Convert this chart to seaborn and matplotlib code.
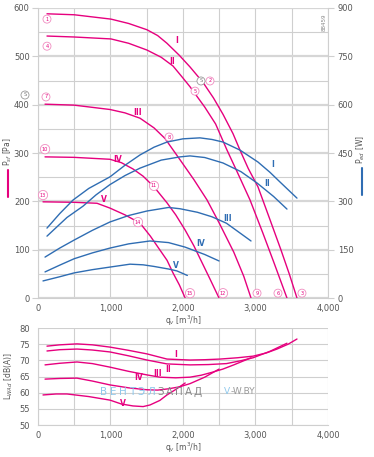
import matplotlib
matplotlib.use("Agg")
import matplotlib.pyplot as plt
import seaborn as sns
import numpy as np

sns.set_style("white")
plt.rcParams['font.family'] = ['DejaVu Sans']

MAG = '#e6007e'
BLUE = '#2f6db3'
GRID = '#cfcfcf'
TXT = '#555555'

# pressure curves (q in m3/h, p in Pa)
q_p1 = [124, 500, 1007, 1250, 1503, 1650, 1779, 1950, 2097, 2276, 2420, 2552, 2690, 2786, 2900, 3034, 3200, 3350, 3470, 3572]
p_p1 = [588, 586, 577, 568, 555, 543, 527, 502, 478, 446, 414, 380, 340, 306, 268, 230, 162, 100, 48, 0]
q_p2 = [124, 500, 1007, 1250, 1503, 1700, 1862, 2000, 2097, 2300, 2450, 2607, 2750, 2924, 3100, 3250, 3434]
p_p2 = [542, 540, 536, 527, 513, 498, 480, 455, 437, 395, 360, 306, 260, 203, 135, 75, 0]
q_p3 = [97, 500, 993, 1200, 1407, 1600, 1752, 1959, 2150, 2331, 2500, 2700, 2838, 2938]
p_p3 = [401, 399, 390, 383, 372, 352, 330, 286, 245, 203, 155, 95, 45, 0]
q_p4 = [97, 500, 993, 1150, 1310, 1450, 1600, 1779, 1900, 2028, 2150, 2234, 2370, 2497]
p_p4 = [292, 291, 287, 280, 267, 252, 230, 197, 172, 141, 108, 82, 40, 0]
q_p5 = [69, 500, 814, 993, 1200, 1407, 1550, 1683, 1780, 1862, 1950, 2030]
p_p5 = [199, 198, 196, 186, 172, 155, 128, 99, 78, 52, 27, 0]

# input power curves (W)
q_w1 = [124, 300, 483, 700, 993, 1200, 1407, 1600, 1779, 2000, 2234, 2400, 2552, 2786, 3034, 3200, 3338, 3572]
w_w1 = [217, 262, 304, 340, 376, 412, 444, 468, 484, 494, 497, 492, 484, 459, 422, 390, 360, 310]
q_w2 = [124, 400, 621, 800, 993, 1200, 1407, 1700, 1959, 2097, 2300, 2552, 2800, 3021, 3250, 3434]
w_w2 = [192, 250, 285, 320, 352, 380, 403, 428, 438, 441, 436, 419, 392, 357, 315, 276]
q_w3 = [97, 300, 500, 750, 993, 1250, 1503, 1800, 1959, 2200, 2400, 2600, 2938]
w_w3 = [127, 155, 180, 210, 236, 256, 270, 281, 277, 266, 252, 232, 177]
q_w4 = [97, 300, 500, 750, 993, 1250, 1545, 1800, 2028, 2300, 2497]
w_w4 = [81, 102, 122, 140, 155, 168, 177, 172, 158, 135, 115]
q_w5 = [69, 300, 500, 750, 993, 1269, 1450, 1600, 1800, 1917, 2060]
w_w5 = [53, 66, 78, 88, 96, 105, 103, 98, 90, 84, 70]

# sound power level curves (dB(A))
q_l1 = [124, 300, 538, 750, 993, 1250, 1503, 1779, 2097, 2300, 2510, 2750, 2966, 3150, 3297, 3450, 3572]
l_l1 = [74.4, 74.8, 75.1, 74.8, 74.1, 73.1, 72.0, 70.4, 70.1, 70.2, 70.4, 70.8, 71.3, 72.3, 73.5, 75.0, 76.6]
q_l2 = [124, 300, 538, 750, 993, 1250, 1503, 1779, 2097, 2350, 2600, 2800, 2966, 3200, 3434]
l_l2 = [72.9, 73.3, 73.5, 73.2, 72.6, 71.4, 70.1, 68.9, 68.6, 68.7, 69.0, 69.9, 70.8, 72.8, 75.3]
q_l3 = [97, 300, 538, 750, 993, 1250, 1503, 1680, 1900, 2097, 2250, 2400, 2550, 2700, 2938]
l_l3 = [68.6, 69.1, 69.5, 69.0, 67.9, 66.6, 65.5, 64.8, 64.6, 64.8, 65.4, 66.3, 67.3, 68.6, 70.8]
q_l4 = [97, 300, 538, 750, 993, 1250, 1503, 1650, 1800, 1950, 2097, 2300, 2497]
l_l4 = [64.2, 64.4, 64.5, 63.6, 62.4, 61.5, 60.9, 60.8, 61.2, 61.8, 62.8, 64.8, 67.3]
q_l5 = [69, 250, 400, 700, 993, 1150, 1310, 1450, 1545, 1680, 1779, 1900, 2030]
l_l5 = [59.3, 59.6, 59.6, 58.8, 57.7, 56.5, 55.9, 55.7, 56.2, 57.6, 59.3, 61.0, 63.0]

roman = ['I', 'II', 'III', 'IV', 'V']

fig = plt.figure(figsize=(3.74, 4.57), dpi=100)
ax = fig.add_axes([0.1016, 0.3479, 0.7754, 0.6346])
ax2 = ax.twinx()
axl = fig.add_axes([0.1016, 0.0700, 0.7754, 0.2122])


def style_axis(a, yt_major, yt_minor):
    a.set_xlim(0, 4000)
    a.set_xticks([0, 1000, 2000, 3000, 4000])
    a.set_xticklabels(['0', '1,000', '2,000', '3,000', '4,000'])
    a.set_xticks(np.arange(0, 4001, 500), minor=True)
    a.set_yticks(yt_major)
    a.set_yticks(yt_minor, minor=True)
    a.grid(True, which='major', axis='y', color='#d6d6d6', lw=1.6)
    a.grid(True, which='minor', axis='y', color=GRID, lw=0.8)
    a.grid(True, which='both', axis='x', color=GRID, lw=0.8)
    a.set_axisbelow(True)
    for s in ['top', 'right']:
        a.spines[s].set_visible(False)
    a.spines['left'].set_color(GRID)
    a.spines['bottom'].set_color(GRID)
    a.tick_params(axis='both', which='major', labelsize=6, colors=TXT,
                  length=4, width=0.8, color=GRID, pad=2)
    a.tick_params(axis='x', which='major', length=3, pad=1)
    a.tick_params(axis='both', which='minor', length=0)


# top chart: pressure
for q, p in [(q_p1, p_p1), (q_p2, p_p2), (q_p3, p_p3), (q_p4, p_p4), (q_p5, p_p5)]:
    sns.lineplot(x=q, y=p, ax=ax, color=MAG, lw=1.0, sort=False, estimator=None)
ax.set_ylim(0, 600)
style_axis(ax, np.arange(0, 601, 100), np.arange(0, 601, 50))
ax.set_xlabel('')
ax.set_ylabel('')
fig.text(183 / 374, 1 - 321 / 457, 'q$_v$ [m$^3$/h]', fontsize=5.5, color=TXT,
         ha='center', va='center')

# power on right axis
for q, w in [(q_w1, w_w1), (q_w2, w_w2), (q_w3, w_w3), (q_w4, w_w4), (q_w5, w_w5)]:
    sns.lineplot(x=q, y=w, ax=ax2, color=BLUE, lw=1.0, sort=False, estimator=None)
ax2.set_ylim(0, 900)
ax2.set_yticks(np.arange(0, 901, 150))
ax2.grid(False)
for s in ['top', 'left', 'bottom']:
    ax2.spines[s].set_visible(False)
ax2.spines['right'].set_color(GRID)
ax2.tick_params(axis='y', labelsize=6, colors=TXT, length=4, width=0.8, color=GRID, pad=3)
ax2.set_ylabel('')

# curve labels
for lab, (x, y) in zip(roman, [(1917, 532), (1848, 490), (1379, 383), (1103, 286), (910, 203)]):
    ax.text(x, y, lab, color=MAG, fontsize=5.5, fontweight='bold', ha='center', va='center')
for lab, (x, y) in zip(roman, [(3241, 413), (3159, 354), (2621, 248), (2248, 168), (1903, 102)]):
    ax2.text(x, y, lab, color=BLUE, fontsize=5.5, fontweight='bold', ha='center', va='center')

# operating point markers
points = [('1', 124, 577), ('4', 124, 521), ('7', 110, 416), ('10', 97, 308), ('13', 69, 213),
          ('2', 2372, 449), ('5', 2166, 428), ('8', 1807, 333), ('11', 1600, 232), ('14', 1379, 157),
          ('15', 2097, 10), ('12', 2552, 10), ('9', 3021, 10), ('6', 3310, 10), ('3', 3641, 10)]
for t, x, y in points:
    ax.text(x, y, t, color=MAG, fontsize=3.6, ha='center', va='center',
            bbox=dict(boxstyle='circle,pad=0.3', fc='white', ec='#f08cc0', lw=0.6))
ax.text(2248, 449, 'S', color='#777', fontsize=3.6, ha='center', va='center',
        bbox=dict(boxstyle='circle,pad=0.3', fc='white', ec='#999', lw=0.6))
fig.text(25 / 374, 1 - 95 / 457, 'S', color='#777', fontsize=3.6, ha='center', va='center',
         bbox=dict(boxstyle='circle,pad=0.3', fc='white', ec='#999', lw=0.6))

fig.text(324 / 374, 1 - 22 / 457, '88459', rotation=90, fontsize=4, color='#888',
         ha='center', va='center')

# axis titles with colour keys
fig.text(8 / 374, 1 - 152 / 457, 'P$_{sf}$ [Pa]', rotation=90, fontsize=5.5, color=TXT,
         ha='center', va='center')
fig.add_artist(plt.Line2D([8 / 374, 8 / 374], [1 - 170 / 457, 1 - 197 / 457], color=MAG, lw=1.5))
fig.text(361 / 374, 1 - 150 / 457, 'P$_{ed}$ [W]', rotation=90, fontsize=5.5, color=TXT,
         ha='center', va='center')
fig.add_artist(plt.Line2D([362 / 374, 362 / 374], [1 - 168 / 457, 1 - 195 / 457], color=BLUE, lw=1.5))

# bottom chart: sound level
for q, l in [(q_l1, l_l1), (q_l2, l_l2), (q_l3, l_l3), (q_l4, l_l4), (q_l5, l_l5)]:
    sns.lineplot(x=q, y=l, ax=axl, color=MAG, lw=1.0, sort=False, estimator=None)
axl.set_ylim(50, 80)
style_axis(axl, np.arange(50, 81, 5), [])
axl.grid(True, which='major', axis='y', color=GRID, lw=0.8)
axl.set_xlabel('')
fig.text(183 / 374, 1 - 448 / 457, 'q$_v$ [m$^3$/h]', fontsize=5.5, color=TXT,
         ha='center', va='center')
axl.set_ylabel('L$_{WAd}$ [dB(A)]', fontsize=5.5, color=TXT, labelpad=3)
for lab, (x, y) in zip(roman, [(1903, 71.7), (1793, 67.3), (1655, 65.8), (1393, 64.8), (1172, 56.8)]):
    axl.text(x, y, lab, color=MAG, fontsize=5.5, fontweight='bold', ha='center', va='center')

# watermark, letter by letter for the wide spacing
wm = 'ВЕНТЭЛЗАПАД'
for i, ch in enumerate(wm):
    fig.text((104 + i * 9.4) / 374, 1 - 392 / 457, ch, fontsize=7.5,
             color='#8ec8ec' if i < 6 else '#888888', ha='center', va='center')
fig.text(224 / 374, 1 - 392 / 457, 'V', fontsize=6.5, color='#8ec8ec', va='center')
fig.text(231 / 374, 1 - 392 / 457, '-W.BY', fontsize=6.5, color='#999999', va='center')

fig.savefig('out.png', dpi=100)
